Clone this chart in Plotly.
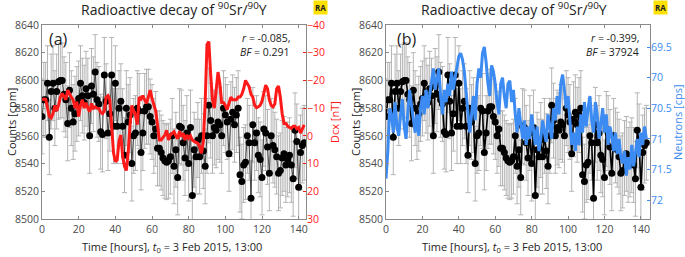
import plotly.graph_objects as go

hours = list(range(144))

counts = [8574, 8586, 8586, 8598, 8559, 8592, 8598, 8580, 8592, 8599,
          8600, 8600, 8590, 8586, 8569, 8593, 8580, 8570, 8576, 8583,
          8587, 8598, 8589, 8584, 8594, 8589, 8560, 8596, 8590, 8606,
          8586, 8583, 8563, 8561, 8604, 8585, 8562, 8576, 8604, 8567,
          8598, 8567, 8580, 8585, 8567, 8546, 8580, 8570, 8575, 8540,
          8560, 8562, 8580, 8578, 8548, 8562, 8578, 8581, 8581, 8574,
          8570, 8560, 8565, 8551, 8551, 8548, 8544, 8542, 8541, 8542,
          8545, 8560, 8538, 8550, 8530, 8567, 8566, 8555, 8544, 8562,
          8540, 8566, 8517, 8550, 8545, 8557, 8545, 8560, 8549, 8538,
          8560, 8582, 8571, 8560, 8566, 8564, 8570, 8568, 8560, 8580,
          8575, 8570, 8547, 8572, 8577, 8568, 8575, 8580, 8532, 8527,
          8539, 8541, 8560, 8555, 8515, 8568, 8555, 8562, 8546, 8543,
          8530, 8565, 8562, 8552, 8533, 8560, 8553, 8550, 8545, 8533,
          8535, 8544, 8547, 8539, 8543, 8546, 8539, 8529, 8564, 8556,
          8523, 8548, 8553, 8555]
count_err = 27

dcx = [-13, -13.3, -13.2, -10, -7, -6.5, -8, -11, -9, -11,
       -14, -15.3, -14, -13, -16.5, -15, -14, -13, -10, -12.3,
       -7, -11, -13, -10, -12, -10, -8.7, -11.7, -10, -10.5,
       -10, -9.9, -8.5, -8, -9, -14, -14.5, -13, -4, 6,
       9.3, 8.7, 2, -0.3, 7.5, 11, 12.5, 6, -4, -11,
       -9, -7.5, -4, -14, -13.3, -14.5, -13, -11.7, -14, -16.5,
       -13.5, -11, -9, -4, 1.5, 1.5, 0.5, -0.3, -2, 1.5,
       -0.3, -1, -1.5, 0, 1, -1.7, 0.3, -1, 1.5, -0.3,
       0.9, 0, 1.5, 2, 2.5, 2.7, 3.9, 6.3, 2, -12,
       -33, -34, -22, -13, -10, -17, -23, -19, -12, -12,
       -11, -9.5, -12, -14, -13, -13, -13, -14, -14, -15,
       -17, -20, -19, -17.7, -15, -14, -11, -10.2, -10.5, -11,
       -12.5, -15, -18.3, -17, -13, -11, -10.5, -11.5, -17, -18,
       -14, -8, -4.5, -4.5, -3.5, -3, -2.7, -3.5, -3.5, -2.5,
       -3, -1, -2.7, -4]

neutrons = [71.65, 71.2, 70.5, 70.6, 70.9, 70.4, 70.8, 70.95, 70.6, 70.35,
            70.8, 71.0, 70.55, 70.2, 70.45, 70.7, 70.9, 70.6, 70.95, 70.5,
            70.3, 70.6, 70.2, 70.5, 70.3, 70.1, 69.85, 70.2, 70.0, 69.85,
            70.3, 70.6, 70.2, 70.4, 70.1, 70.3, 69.9, 70.2, 70.0, 69.8,
            69.65, 69.6, 69.7, 69.9, 70.2, 70.5, 70.9, 70.6, 70.3, 70.7,
            70.1, 69.85, 70.0, 69.6, 69.5, 69.75, 70.1, 70.3, 69.8, 69.9,
            70.1, 70.4, 70.6, 70.1, 70.0, 70.3, 70.5, 70.1, 70.05, 70.4,
            70.2, 70.6, 70.9, 70.5, 70.8, 71.0, 70.7, 71.1, 70.8, 71.0,
            70.6, 70.9, 71.1, 70.8, 71.2, 71.0, 70.7, 70.9, 71.05, 70.6,
            70.8, 71.0, 70.5, 70.7, 70.3, 70.6, 70.1, 69.95, 70.2, 70.5,
            70.3, 70.8, 71.1, 70.9, 71.2, 70.8, 71.1, 70.6, 70.9, 70.4,
            70.8, 70.5, 70.3, 70.7, 70.9, 70.4, 70.6, 71.0, 70.75, 70.5,
            70.9, 70.6, 71.1, 70.8, 70.95, 71.2, 70.9, 71.25, 71.0, 71.3,
            71.4, 71.2, 71.6, 71.3, 71.5, 71.1, 71.45, 71.2, 71.0, 71.3,
            70.9, 71.1, 70.8, 71.0]

x_ticks = [0, 20, 40, 60, 80, 100, 120, 140]
count_ticks = [8500, 8520, 8540, 8560, 8580, 8600, 8620, 8640]
dcx_ticks = [-40, -30, -20, -10, 0, 10, 20, 30]
neutron_ticks = [69.5, 70, 70.5, 71, 71.5, 72]
neutron_labels = ["69.5", "70", "70.5", "71", "71.5", "72"]

W, H = 685, 257
FONT = "Open Sans"
AX = "#8a8a8a"
TXT = "#4a4a4a"
RED = "#ff1a1a"
BLUE = "#3b8bf2"
GREY = "#b4b4b4"

def px(x):
    return x / W

def py(y):
    return 1 - y / H

ydom = [py(219), py(25)]

fig = go.Figure()

# Panel (a)
fig.add_trace(go.Scatter(x=hours, y=counts, mode="lines+markers",
                         line=dict(color="#222222", width=0.8),
                         marker=dict(color="black", size=7),
                         error_y=dict(type="constant", value=count_err, color=GREY,
                                      thickness=1, width=2.5),
                         xaxis="x", yaxis="y", showlegend=False))
fig.add_trace(go.Scatter(x=hours, y=dcx, mode="lines",
                         line=dict(color=RED, width=3),
                         xaxis="x", yaxis="y2", showlegend=False))

# Panel (b)
fig.add_trace(go.Scatter(x=hours, y=neutrons, mode="lines",
                         line=dict(color=BLUE, width=3),
                         xaxis="x2", yaxis="y4", showlegend=False))
fig.add_trace(go.Scatter(x=hours, y=counts, mode="lines+markers",
                         line=dict(color="black", width=1.6),
                         marker=dict(color="black", size=7),
                         error_y=dict(type="constant", value=count_err, color=GREY,
                                      thickness=1, width=2.5),
                         xaxis="x2", yaxis="y3", showlegend=False))

tickfont = dict(family=FONT, size=10.5, color=TXT)
common_x = dict(range=[0, 144], tickvals=x_ticks, ticks="inside", ticklen=3,
                tickcolor=AX, showline=True, linecolor=AX, linewidth=1,
                mirror="ticks", showgrid=False, zeroline=False, tickfont=tickfont)

fig.update_layout(
    width=W, height=H, margin=dict(l=0, r=0, t=0, b=0, autoexpand=False),
    paper_bgcolor="white", plot_bgcolor="white",
    xaxis=dict(domain=[px(42), px(306)], anchor="y", **common_x),
    xaxis2=dict(domain=[px(386), px(650)], anchor="y3",
                **{**common_x, "range": [0, 145]}),
    yaxis=dict(domain=ydom, range=[8500, 8640], tickvals=count_ticks,
               ticks="inside", ticklen=3, tickcolor=AX, showline=True,
               linecolor=AX, mirror=True, showgrid=False, zeroline=False,
               tickfont=tickfont, anchor="x"),
    yaxis2=dict(overlaying="y", side="right", anchor="x", range=[30, -40],
                tickvals=dcx_ticks, ticks="inside", ticklen=3, tickcolor=RED,
                showline=False, showgrid=False, zeroline=False,
                tickfont=dict(family=FONT, size=10.5, color=RED)),
    yaxis3=dict(domain=ydom, range=[8500, 8640], tickvals=count_ticks,
                ticks="inside", ticklen=3, tickcolor=AX, showline=True,
                linecolor=AX, mirror=True, showgrid=False, zeroline=False,
                tickfont=tickfont, anchor="x2"),
    yaxis4=dict(overlaying="y3", side="right", anchor="x2", range=[72.31, 69.14],
                tickvals=neutron_ticks, ticktext=neutron_labels,
                ticks="inside", ticklen=3, tickcolor=BLUE,
                showline=False, showgrid=False, zeroline=False,
                tickfont=dict(family=FONT, size=10.5, color=BLUE)),
)

ann = []
def A(text, x, y, size=11, color=TXT, xanchor="center", yanchor="middle", angle=0, **kw):
    ann.append(dict(text=text, x=px(x), y=py(y), xref="paper", yref="paper",
                    showarrow=False, xanchor=xanchor, yanchor=yanchor, textangle=angle,
                    font=dict(family=FONT, size=size, color=color), **kw))

title = "Radioactive decay of <sup>90</sup>Sr/<sup>90</sup>Y"
xt = "Time [hours], <i>t</i><sub>0</sub> = 3 Feb 2015, 13:00"
for cx, ra, rtxt, bftxt, rx in [
        (174, 320, "<i>r</i> = -0.085,", "<i>BF</i> = 0.291", 292),
        (514, 660, "<i>r</i> = -0.399,", "<i>BF</i> = 37924", 641)]:
    A(title, cx, 9, size=14, color="#222222")
    A("<b>RA</b>", ra, 7, size=8, color="#222222", bgcolor="#ffe100", borderpad=1)
    A(xt, cx - 2, 247, size=11, color="#222222")
    A(rtxt, rx, 38, size=10.5, color="#222222", xanchor="right")
    A(bftxt, rx, 52, size=10.5, color="#222222", xanchor="right")
A("(a)", 58, 39, size=16, color="#222222")
A("(b)", 407, 39, size=16, color="#222222")
A("Counts [cpm]", 11, 122, size=11, color="#222222", angle=-90)
A("Counts [cpm]", 355, 122, size=11, color="#222222", angle=-90)
A("Dcx [nT]", 334, 122, size=11, color=RED, angle=-90)
A("Neutrons [cps]", 677, 122, size=11, color=BLUE, angle=-90)
fig.update_layout(annotations=ann)

fig.write_html("out.html", config={"displayModeBar": False},
               post_script="document.body.style.margin='0';document.body.style.overflow='hidden';")
